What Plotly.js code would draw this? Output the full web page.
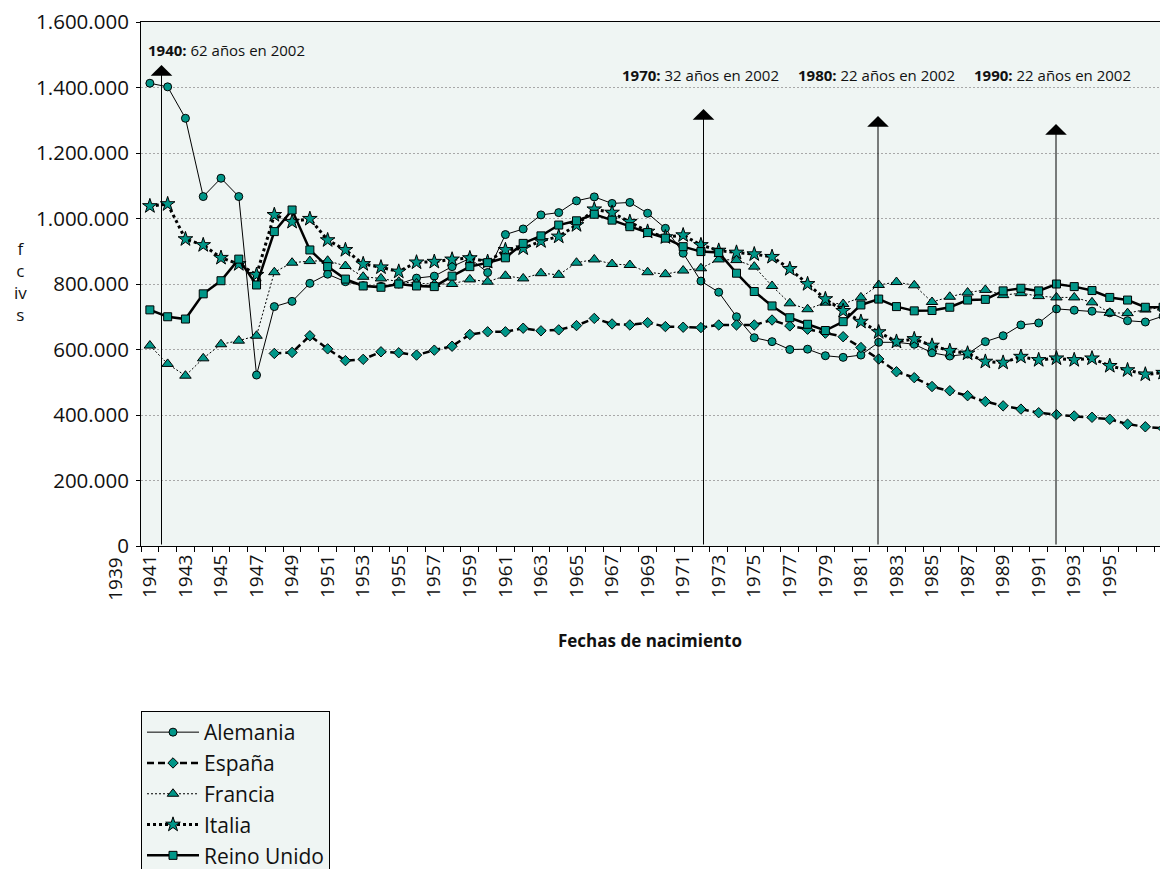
<!DOCTYPE html>
<html>
<head>
<meta charset="utf-8">
<script src="https://cdn.plot.ly/plotly-3.0.1.min.js"></script>
<style>
  html, body { margin: 0; padding: 0; overflow: hidden; background: #fff; }
</style>
</head>
<body>
<div id="grafico"></div>
<script>
// Años de nacimiento (un punto por año)
const anios = Array.from({ length: 58 }, (_, i) => 1941 + i);

// Etiquetas del eje X
const etiquetasX = ["1939", "1941", "1943", "1945", "1947", "1949", "1951", "1953", "1955", "1957",
    "1959", "1961", "1963", "1965", "1967", "1969", "1971", "1973", "1975", "1977", "1979",
    "1981", "1983", "1985", "1987", "1989", "1991", "1993", "1995"];

const alemania = [1413000, 1402000, 1306000, 1067000, 1123000, 1067000, 522000, 731000, 747000, 802000,
    830000, 807000, 795000, 793000, 800000, 818000, 824000, 853000, 878000, 835000,
    951000, 968000, 1011000, 1018000, 1054000, 1066000, 1046000, 1049000, 1016000, 970000,
    894000, 809000, 775000, 700000, 636000, 624000, 600000, 601000, 581000, 576000,
    583000, 622000, 622000, 616000, 590000, 580000, 586000, 624000, 642000, 675000,
    681000, 724000, 720000, 717000, 712000, 688000, 684000, 702000];

const espana = [null, null, null, null, null, null, null, 588000, 591000, 642000,
    602000, 566000, 570000, 593000, 590000, 583000, 598000, 610000, 646000, 654000,
    654000, 665000, 657000, 660000, 673000, 695000, 678000, 675000, 682000, 670000,
    668000, 667000, 675000, 675000, 675000, 690000, 672000, 662000, 650000, 639000,
    606000, 571000, 532000, 514000, 487000, 474000, 459000, 441000, 428000, 418000,
    407000, 401000, 397000, 393000, 387000, 372000, 364000, 359000];

const francia = [612000, 556000, 520000, 573000, 616000, 627000, 642000, 836000, 865000, 870000,
    871000, 855000, 822000, 817000, 807000, 802000, 800000, 800000, 814000, 807000,
    825000, 817000, 833000, 828000, 865000, 875000, 861000, 858000, 836000, 830000,
    841000, 848000, 875000, 873000, 853000, 794000, 741000, 723000, 743000, 739000,
    759000, 797000, 806000, 796000, 745000, 761000, 774000, 782000, 766000, 772000,
    763000, 759000, 759000, 744000, 712000, 711000, 722000, 728000];

const italia = [1038000, 1044000, 937000, 919000, 880000, 861000, 828000, 1011000, 990000, 999000,
    934000, 904000, 861000, 851000, 838000, 866000, 868000, 875000, 879000, 868000,
    904000, 909000, 931000, 945000, 980000, 1028000, 1018000, 990000, 960000, 943000,
    949000, 919000, 902000, 896000, 891000, 883000, 846000, 800000, 754000, 718000,
    685000, 653000, 624000, 632000, 612000, 596000, 588000, 563000, 560000, 578000,
    568000, 573000, 568000, 573000, 550000, 537000, 524000, 529000];

const reinoUnido = [721000, 700000, 693000, 770000, 810000, 876000, 797000, 960000, 1026000, 904000,
    853000, 815000, 794000, 790000, 800000, 794000, 792000, 824000, 853000, 865000,
    880000, 924000, 947000, 980000, 993000, 1013000, 995000, 975000, 957000, 940000,
    914000, 899000, 896000, 833000, 777000, 733000, 697000, 677000, 658000, 685000,
    736000, 754000, 731000, 718000, 719000, 729000, 751000, 753000, 779000, 787000,
    779000, 800000, 792000, 780000, 759000, 751000, 729000, 729000];

// Cohortes señaladas
const cohortes = ["1940", "1970", "1980", "1990"];
const edades = [62, 32, 22, 22];

// Geometría
const ANCHO = 1180, ALTO = 900;
const MARGEN = { l: 141, r: 8, t: 22, b: ALTO - 546 };
const RANGO_X = [1940.5, 1998.5];
const RANGO_Y = [0, 1600000];
const anchoPlot = ANCHO - MARGEN.l - MARGEN.r;
const altoPlot = ALTO - MARGEN.t - MARGEN.b;
const xDePx = px => RANGO_X[0] + (px - MARGEN.l) / anchoPlot * (RANGO_X[1] - RANGO_X[0]);
const yDePx = py => RANGO_Y[0] + (MARGEN.t + altoPlot - py) / altoPlot * (RANGO_Y[1] - RANGO_Y[0]);
const xPaper = px => (px - MARGEN.l) / anchoPlot;
const yPaper = py => (MARGEN.t + altoPlot - py) / altoPlot;

const TEAL = '#009688';
const FUENTE = '"Open Sans", "Noto Sans", sans-serif';

function serie(nombre, valores, simbolo, tam, linea) {
    return {
        x: anios,
        y: valores,
        name: nombre,
        legendgroup: nombre,
        type: 'scatter',
        mode: 'lines+markers',
        connectgaps: false,
        line: Object.assign({ color: '#000' }, linea),
        marker: { symbol: simbolo, size: tam, color: TEAL, line: { color: '#000', width: 1 } },
    };
}

const data = [
    serie('Alemania', alemania, 'circle', 8, { width: 1 }),
    serie('España', espana, 'diamond', 8, { width: 2.5, dash: '7px,4px' }),
    serie('Francia', francia, 'triangle-up', 10, { width: 1, dash: '2px,2px' }),
    serie('Italia', italia, 'star', 11, { width: 3, dash: 'dot' }),
    serie('Reino Unido', reinoUnido, 'square', 8, { width: 2.5 }),
];

// Flechas (posición en px de la imagen y altura de la punta)
const flechasPx = [161.5, 703.5, 878, 1056];
const puntasPx = [65, 109, 116, 124];
const textosPx = [[146, 50], [620, 75], [796, 75], [972, 75]];

const annotations = [];
cohortes.forEach((c, k) => {
    const x = xDePx(flechasPx[k]);
    annotations.push({
        x: x, y: yDePx(puntasPx[k]), ax: x, ay: 0,
        xref: 'x', yref: 'y', axref: 'x', ayref: 'y',
        text: '', showarrow: true, arrowhead: 1, arrowsize: 3.6, arrowwidth: 1,
        arrowcolor: '#000', standoff: 0, startstandoff: 0,
    });
    annotations.push({
        x: xPaper(textosPx[k][0]), y: yPaper(textosPx[k][1]),
        xref: 'paper', yref: 'paper', xanchor: 'left', yanchor: 'middle',
        text: `<b>${c}:</b> ${edades[k]} años en 2002`,
        showarrow: false, font: { family: FUENTE, size: 15, color: '#111' },
    });
});

// Etiqueta 1939, fuera del área de trazado
annotations.push({
    x: (Number(etiquetasX[0]) - RANGO_X[0]) / (RANGO_X[1] - RANGO_X[0]),
    y: 0, xref: 'paper', yref: 'paper', yshift: -10,
    xanchor: 'center', yanchor: 'top', textangle: -90,
    text: etiquetasX[0], showarrow: false,
    font: { family: FUENTE, size: 19, color: '#111' },
});

// Título del eje Y (tal como aparece)
annotations.push({
    x: xPaper(20), y: yPaper(281), xref: 'paper', yref: 'paper',
    xanchor: 'center', yanchor: 'middle', text: 'f<br>c<br>iv<br>s',
    showarrow: false, font: { family: FUENTE, size: 17, color: '#111' },
});

// Título del eje X
annotations.push({
    x: xPaper(650), y: yPaper(640), xref: 'paper', yref: 'paper',
    xanchor: 'center', yanchor: 'middle', text: '<b>Fechas de nacimiento</b>',
    showarrow: false, font: { family: FUENTE, size: 17, color: '#111' },
});

const layout = {
    width: ANCHO,
    height: ALTO,
    margin: MARGEN,
    paper_bgcolor: '#fff',
    plot_bgcolor: '#EFF5F3',
    separators: ',.',
    font: { family: FUENTE, color: '#111' },
    showlegend: true,
    legend: {
        x: xPaper(141), xanchor: 'left',
        y: yPaper(711), yanchor: 'top',
        bgcolor: '#EFF5F3', bordercolor: '#000', borderwidth: 1,
        font: { family: FUENTE, size: 21, color: '#111' },
        itemwidth: 52, traceorder: 'grouped', tracegroupgap: 0.5,
    },
    xaxis: {
        range: RANGO_X,
        tickmode: 'array',
        tickvals: etiquetasX.slice(1).map(Number),
        ticktext: etiquetasX.slice(1),
        tickangle: -90,
        ticks: '',
        tickfont: { family: FUENTE, size: 19, color: '#111' },
        showline: true, linecolor: '#000', linewidth: 1, mirror: true,
        showgrid: false, zeroline: false,
        minor: { tickmode: 'linear', tick0: 1940.5, dtick: 1, ticks: 'outside', ticklen: 5, tickcolor: '#000', showgrid: false },
    },
    yaxis: {
        range: RANGO_Y,
        dtick: 200000,
        tickformat: ',d',
        ticks: 'outside', ticklen: 4, tickcolor: '#000',
        ticklabelstandoff: 3,
        tickfont: { family: FUENTE, size: 20.5, color: '#111' },
        showline: true, linecolor: '#000', linewidth: 1, mirror: true,
        showgrid: true, gridcolor: '#a8a8a8', gridwidth: 1, griddash: '2px,2px',
        zeroline: false,
    },
    annotations: annotations,
};

Plotly.newPlot('grafico', data, layout, { displayModeBar: false, staticPlot: true });
</script>
</body>
</html>
